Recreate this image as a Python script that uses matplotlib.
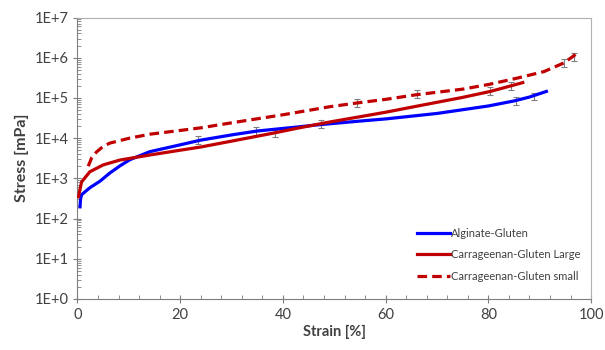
import numpy as np
import matplotlib.pyplot as plt
from matplotlib.ticker import LogLocator, MultipleLocator, NullFormatter

plt.rcParams['font.family'] = ['Lato', 'DejaVu Sans']

# Alginate-Gluten
blue_x = [0.5, 0.6, 0.8, 2.4, 4.4, 6.3, 8.3, 10.2, 14.1, 20, 24, 30, 35, 43, 47, 55, 60, 70, 80, 85, 88, 91.3]
blue_y = [195, 300, 390, 580, 850, 1350, 2050, 2900, 4600, 6800, 8900, 12000, 15000, 19000, 21500,
          26500, 30000, 41000, 63000, 84000, 105000, 145000]

# Carrageenan-Gluten Large
red_x = [0.2, 0.8, 2.4, 5, 8.3, 14.1, 20, 24, 30, 38, 43, 49, 55, 60, 66, 75, 80.4, 86.7]
red_y = [350, 810, 1450, 2150, 2850, 3800, 5000, 6000, 8400, 13200, 17800, 25000, 34000, 44000,
         62000, 103000, 145000, 240000]

# Carrageenan-Gluten small
dash_x = [2.1, 2.8, 3.7, 5, 6.3, 10.2, 14.1, 20, 24, 30, 40, 49, 54.5, 60, 66, 75, 80, 85.6, 90.8, 94.7, 97.7]
dash_y = [2000, 3300, 4500, 6200, 7500, 10000, 12500, 15500, 18000, 24000, 38000, 60000, 75000,
          92000, 120000, 165000, 215000, 310000, 450000, 740000, 1400000]

# error bar positions
err_blue = [(23.5, 9100), (34.8, 15000), (47.4, 22000), (85.3, 84000), (88.8, 108000)]
err_red = [(38.5, 13000), (80.4, 148000), (84.5, 200000)]
err_dash = [(54.5, 75000), (66.2, 124000), (94.7, 740000), (96.6, 1050000)]

ytick_labels = ['1E+0', '1E+1', '1E+2', '1E+3', '1E+4', '1E+5', '1E+6', '1E+7']

fig = plt.figure(figsize=(6.05, 3.5), dpi=100)
ax = fig.add_axes([0.128, 0.146, 0.849, 0.804])

ax.plot(blue_x, blue_y, color='#0000ff', lw=2.3, label='Alginate-Gluten', zorder=3)
ax.plot(red_x, red_y, color='#c00000', lw=2.3, label='Carrageenan-Gluten Large', zorder=3)
ax.plot(dash_x, dash_y, color='#c00000', lw=2.3, ls=(0, (3, 1.6)), label='Carrageenan-Gluten small', zorder=3)

for pts in (err_blue, err_red, err_dash):
    ex = [p[0] for p in pts]
    ey = [p[1] for p in pts]
    lo = [v - v / 1.25 for v in ey]
    hi = [v * 0.25 for v in ey]
    ax.errorbar(ex, ey, yerr=[lo, hi], fmt='none', ecolor='#7f7f7f', elinewidth=0.8,
                capsize=2, capthick=0.8, zorder=2)

ax.set_yscale('log')
ax.set_ylim(1, 1e7)
ax.set_xlim(0, 100)

ax.set_yticks([10.0 ** i for i in range(8)])
ax.set_yticklabels(ytick_labels)
ax.yaxis.set_minor_locator(LogLocator(base=10, subs=np.arange(2, 10), numticks=20))
ax.yaxis.set_minor_formatter(NullFormatter())

ax.xaxis.set_major_locator(MultipleLocator(20))
ax.xaxis.set_minor_locator(MultipleLocator(4))

ax.tick_params(which='major', direction='inout', length=6, width=0.8, color='#7f7f7f',
               labelsize=10.5, labelcolor='#404040')
ax.tick_params(which='minor', direction='in', length=3, width=0.6, color='#7f7f7f')

for s in ['left', 'bottom']:
    ax.spines[s].set_color('#7f7f7f')
for s in ['top', 'right']:
    ax.spines[s].set_color('#b0b0b0')

ax.set_xlabel('Strain [%]', fontsize=10.5, fontweight='bold', color='#404040', labelpad=2)
ax.set_ylabel('Stress [mPa]', fontsize=11.5, fontweight='bold', color='#404040', labelpad=4)

leg = ax.legend(loc='lower right', bbox_to_anchor=(0.998, 0.025), frameon=False, fontsize=8,
                handlelength=2.9, handletextpad=0.1, labelspacing=0.95)
for t in leg.get_texts():
    t.set_color('#404040')

fig.savefig('out.png', dpi=100)
